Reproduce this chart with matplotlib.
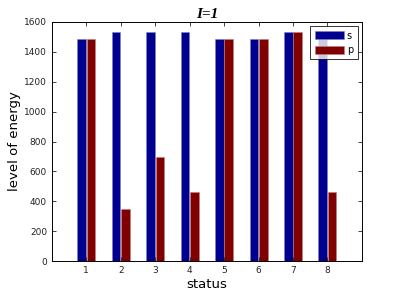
import numpy as np
import matplotlib
matplotlib.use("Agg")
import matplotlib.pyplot as plt

status = [1, 2, 3, 4, 5, 6, 7, 8]
s_energy = [1484, 1535, 1535, 1535, 1484, 1484, 1535, 1535]
p_energy = [1484, 350, 695, 465, 1484, 1484, 1535, 465]

x = np.array(status)
w = 0.25

fig = plt.figure(figsize=(3.99, 2.93), dpi=100)
ax = fig.add_axes([0.130, 0.109, 0.777, 0.816])

ax.bar(x - 0.135, s_energy, w, color="#000090", edgecolor="#8080c0", linewidth=0.4, label="s")
ax.bar(x + 0.135, p_energy, w, color="#800000", edgecolor="#c08080", linewidth=0.4, label="p")

ax.set_xlim(0, 9)
ax.set_ylim(0, 1600)
ax.set_xticks(status)
ax.set_yticks(range(0, 1601, 200))
ax.tick_params(direction="in", length=3, labelsize=6.5, top=True, right=True,
               labelright=False, labeltop=False, width=0.6, colors="#222222")
for sp in ax.spines.values():
    sp.set_linewidth(0.7)

ax.set_xlabel("status", fontsize=9.5, labelpad=2)
ax.set_ylabel("level of energy", fontsize=9.5, labelpad=2)
ax.set_title("I=1", fontsize=11, fontweight="bold", style="italic",
             family="Liberation Serif", pad=3)

leg = ax.legend(loc="upper right", fontsize=7, frameon=True, fancybox=False,
                edgecolor="black", handlelength=3.0, handleheight=0.9,
                borderaxespad=0.45, handletextpad=0.3, borderpad=0.45, labelspacing=0.45)
leg.get_frame().set_linewidth(0.7)

fig.savefig("out.png", dpi=100)
